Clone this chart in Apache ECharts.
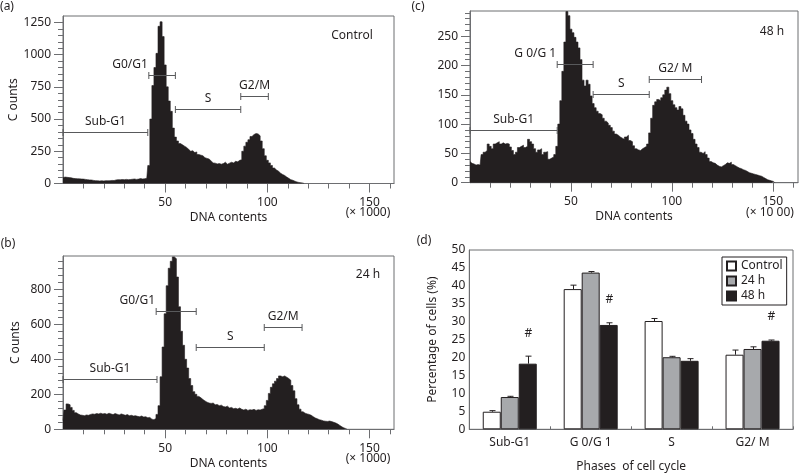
<!DOCTYPE html>
<html><head><meta charset="utf-8">
<script src="https://cdn.jsdelivr.net/npm/echarts@6/dist/echarts.min.js"></script>
<style>html,body{margin:0;padding:0;background:#fff}#c{width:800px;height:475px}</style>
</head><body><div id="c"></div>
<script>
// ---------- DATA ----------
// Histogram counts per DNA-content bin (bin width 1 unit of x1000), starting at 0
const binWidth = 1;
const countsControl = [45,50,48,46,44,40,38,37,36,35,
 34,32,30,28,27,24,22,21,20,21,
 20,22,21,22,24,23,28,30,29,31,
 30,32,30,31,33,35,32,34,38,35,
 37,40,140,500,760,900,1010,1220,1255,1140,
 920,750,640,560,430,360,330,310,300,290,
 280,265,250,255,240,245,225,220,215,200,
 195,190,175,160,158,152,155,150,155,165,
 150,158,165,160,172,168,180,185,250,290,
 320,340,365,380,388,385,370,330,270,215,
 180,160,140,120,105,95,80,70,62,50,
 40,30,25,18,12,8,5,3,0];
const counts24h = [50,110,145,140,125,108,95,88,82,80,
 78,82,80,85,88,86,90,88,92,88,
 90,86,92,88,84,90,86,82,88,84,
 80,84,78,80,76,78,74,72,76,70,
 72,66,68,58,55,62,85,135,300,470,
 660,820,920,960,985,975,870,700,560,480,
 400,350,290,250,215,200,188,180,170,162,
 155,150,148,150,140,142,135,138,130,128,
 132,122,125,118,120,116,122,114,110,115,
 108,112,110,114,108,112,110,115,118,135,
 165,205,240,260,275,290,305,300,305,298,
 290,280,250,220,175,140,115,100,92,88,
 85,80,72,65,60,55,52,48,46,45,
 47,44,40,36,30,22,14,8,4,0];
const counts48h = [36,33,32,30,31,30,48,52,55,66,
 62,58,66,68,70,66,68,66,67,66,
 61,55,48,52,60,62,64,60,62,74,
 70,66,58,52,56,58,48,52,53,40,
 42,44,48,62,100,140,190,240,292,285,
 262,256,248,240,230,210,175,165,175,168,
 148,135,128,122,118,116,110,105,102,98,
 94,88,83,81,78,76,74,78,81,72,
 70,63,58,56,55,58,60,62,66,85,
 110,132,138,142,140,145,150,158,163,152,
 140,133,128,124,130,126,115,105,100,90,
 84,74,66,60,52,50,53,48,42,36,
 34,33,30,28,27,29,31,34,33,35,
 31,29,27,25,24,22,21,19,17,16,
 15,14,13,12,11,9,7,5,4,3,
 2,0];

// Gate markers (start, end in DNA units; level in counts)
const gateNamesAB = ['Sub-G1','G0/G1','S','G2/M'];
const gateNamesC = ['Sub-G1','G 0/G 1','S','G2/ M'];
const gateStartA = [0, 42, 55, 87];
const gateEndA   = [41.5, 55, 87, 100.5];
const gateLevelA = [400, 840, 582, 680];
const gateStartB = [0, 45.6, 65.2, 98.5];
const gateEndB   = [46, 65.2, 98.5, 117];
const gateLevelB = [286, 678, 472, 586];
const gateStartC = [0, 43.2, 61, 88.8];
const gateEndC   = [43.2, 61, 88.8, 114.7];
const gateLevelC = [90, 202, 151, 177];

// Tick values
const xTickValues = [50, 100, 150];
const yTicksA = [0, 250, 500, 750, 1000, 1250];
const yTicksB = [0, 200, 400, 600, 800];
const yTicksC = [0, 50, 100, 150, 200, 250];

// Bar chart (d)
const phases = ['Sub-G1', 'G 0/G 1', 'S', 'G2/ M'];
const groups = ['Control', '24 h', '48 h'];
const pctControl = [4.9, 39.1, 30.2, 20.8];
const pct24h     = [9.0, 43.7, 20.1, 22.4];
const pct48h     = [18.3, 29.1, 19.1, 24.7];
const errControl = [0.3, 1.1, 0.7, 1.3];
const err24h     = [0.2, 0.3, 0.25, 0.6];
const err48h     = [2.1, 0.6, 0.6, 0.2];
const sig48h     = [1, 1, 0, 1];
const sigSymbol = '#';

// ---------- STYLE ----------
const font = "'Noto Sans', sans-serif";
const ink = '#231f20';
const axisColor = '#6d6e71';
const gateColor = '#58595b';
const gateLabelAlign = ['center', 'right', 'center', 'center'];
const barW = 18;
const barColors = ['#ffffff', '#a7a9ac', '#231f20'];

const chart = echarts.init(document.getElementById('c'), null, {renderer: 'canvas'});
const plain = v => String(v);

function histX(gi, max, name) {
  return {
    type: 'value', gridIndex: gi, min: 0, max: max, interval: 50,
    axisLine: {show: true, lineStyle: {color: axisColor, width: 1}},
    axisTick: {show: true, length: 9, customValues: xTickValues, lineStyle: {color: axisColor}},
    minorTick: {show: true, splitNumber: 5, length: 5, lineStyle: {color: axisColor}},
    axisLabel: {customValues: xTickValues, formatter: plain, margin: 13, fontSize: 12, fontFamily: font, color: ink},
    splitLine: {show: false}, minorSplitLine: {show: false},
    name: name, nameLocation: 'middle', nameGap: 28,
    nameTextStyle: {fontSize: 12, fontFamily: font, color: ink}
  };
}
function histY(gi, max, interval, ticks, name) {
  return {
    type: 'value', gridIndex: gi, min: 0, max: max, interval: interval,
    axisLine: {show: true, lineStyle: {color: axisColor, width: 1}},
    axisTick: {show: true, length: 9, customValues: ticks, lineStyle: {color: axisColor}},
    minorTick: {show: true, splitNumber: 5, length: 5, lineStyle: {color: axisColor}},
    axisLabel: {customValues: ticks, formatter: plain, margin: 12, fontSize: 12, fontFamily: font, color: ink},
    splitLine: {show: false}, minorSplitLine: {show: false},
    name: name, nameLocation: 'middle', nameGap: 41, nameRotate: 90,
    nameTextStyle: {fontSize: 12, fontFamily: font, color: ink}
  };
}
function histSeries(gi, counts) {
  return {
    type: 'line', xAxisIndex: gi, yAxisIndex: gi, step: 'middle',
    data: counts.map((c, i) => [i * binWidth, c]),
    symbol: 'none', silent: true, clip: true,
    lineStyle: {color: ink, width: 0.6},
    areaStyle: {color: ink, opacity: 1}
  };
}
function gateSeries(gi, starts, ends, levels, names) {
  return {
    type: 'custom', xAxisIndex: gi, yAxisIndex: gi, silent: true, z: 5, clip: false,
    encode: {x: [0, 1], y: 2},
    data: starts.map((s, i) => [s, ends[i], levels[i]]),
    renderItem: (params, api) => {
      const p1 = api.coord([api.value(0), api.value(2)]);
      const p2 = api.coord([api.value(1), api.value(2)]);
      const y = Math.round(p1[1]) + 0.5;
      const st = {stroke: gateColor, lineWidth: 1};
      const al = gateLabelAlign[params.dataIndex];
      const tx = al === 'right' ? p1[0] - 1 : (p1[0] + p2[0]) / 2;
      return {type: 'group', children: [
        {type: 'line', shape: {x1: p1[0], y1: y, x2: p2[0], y2: y}, style: st},
        {type: 'line', shape: {x1: p1[0], y1: y - 3.5, x2: p1[0], y2: y + 3.5}, style: st},
        {type: 'line', shape: {x1: p2[0], y1: y - 3.5, x2: p2[0], y2: y + 3.5}, style: st},
        {type: 'text', style: {text: names[params.dataIndex], x: tx, y: y - 11,
          align: al, verticalAlign: 'middle', fontSize: 12, fontFamily: font, fill: ink}}
      ]};
    }
  };
}

const pctAll = [pctControl, pct24h, pct48h];
const errAll = [errControl, err24h, err48h];
const errData = [];
for (let s = 0; s < 3; s++) {
  for (let c = 0; c < phases.length; c++) {
    errData.push([c, s, pctAll[s][c], errAll[s][c], s === 2 ? sig48h[c] : 0]);
  }
}

function txt(text, x, y) {
  return {type: 'text', x: x, y: y, silent: true,
    style: {text: text, align: 'center', verticalAlign: 'middle', fontSize: 12, fontFamily: font, fill: ink}};
}

const option = {
  animation: false,
  backgroundColor: '#ffffff',
  textStyle: {fontFamily: font},
  grid: [
    {left: 63, top: 16, width: 331, height: 167.5, show: true, borderColor: axisColor, borderWidth: 1, backgroundColor: 'transparent'},
    {left: 63, top: 256, width: 331, height: 173.3, show: true, borderColor: axisColor, borderWidth: 1, backgroundColor: 'transparent'},
    {left: 470, top: 11, width: 328, height: 171.7, show: true, borderColor: axisColor, borderWidth: 1, backgroundColor: 'transparent'},
    {left: 469.3, top: 250, width: 323.7, height: 179.3, show: true, borderColor: axisColor, borderWidth: 1, backgroundColor: 'transparent'}
  ],
  xAxis: [
    histX(0, 162, 'DNA contents'),
    histX(1, 162, 'DNA contents'),
    histX(2, 162.5, 'DNA contents'),
    {
      type: 'category', gridIndex: 3, data: phases,
      axisLine: {show: true, lineStyle: {color: axisColor}},
      axisTick: {show: true, inside: true, length: 3, lineStyle: {color: axisColor}},
      axisLabel: {margin: 7, fontSize: 12, fontFamily: font, color: ink},
      name: 'Phases  of cell cycle', nameLocation: 'middle', nameGap: 31,
      nameTextStyle: {fontSize: 12, fontFamily: font, color: ink}
    }
  ],
  yAxis: [
    histY(0, 1300, 250, yTicksA, 'C ounts'),
    histY(1, 990, 200, yTicksB, 'C ounts'),
    histY(2, 293, 50, yTicksC, ''),
    {
      type: 'value', gridIndex: 3, min: 0, max: 50, interval: 5,
      axisLine: {show: true, lineStyle: {color: axisColor}},
      axisTick: {show: false},
      axisLabel: {margin: 4, fontSize: 12, fontFamily: font, color: ink},
      splitLine: {show: false},
      name: 'Percentage of cells (%)', nameLocation: 'middle', nameGap: 31, nameRotate: 90,
      nameTextStyle: {fontSize: 12, fontFamily: font, color: ink}
    }
  ],
  legend: {
    show: true, data: groups, orient: 'vertical', left: 722, top: 257,
    itemWidth: 9, itemHeight: 9, itemGap: 3, padding: [3, 4, 3, 4],
    borderColor: ink, borderWidth: 1, icon: 'rect', selectedMode: false,
    textStyle: {fontSize: 12, fontFamily: font, color: ink}
  },
  series: [
    histSeries(0, countsControl),
    histSeries(1, counts24h),
    histSeries(2, counts48h),
    gateSeries(0, gateStartA, gateEndA, gateLevelA, gateNamesAB),
    gateSeries(1, gateStartB, gateEndB, gateLevelB, gateNamesAB),
    gateSeries(2, gateStartC, gateEndC, gateLevelC, gateNamesC),
    ...groups.map((g, s) => ({
      type: 'bar', name: g, xAxisIndex: 3, yAxisIndex: 3, data: pctAll[s],
      barWidth: barW, barGap: '0%', silent: true,
      itemStyle: {color: barColors[s], borderColor: ink, borderWidth: 1}
    })),
    {
      type: 'custom', xAxisIndex: 3, yAxisIndex: 3, silent: true, z: 6, clip: false,
      encode: {x: 0, y: 2},
      data: errData,
      renderItem: (params, api) => {
        const c = api.value(0), s = api.value(1), v = api.value(2), e = api.value(3), sig = api.value(4);
        const base = api.coord([c, v]);
        const top = api.coord([c, v + e]);
        const x = Math.round(base[0] + (s - 1) * barW) + 0.5;
        const st = {stroke: ink, lineWidth: 1};
        const ch = [
          {type: 'line', shape: {x1: x, y1: base[1], x2: x, y2: top[1]}, style: st},
          {type: 'line', shape: {x1: x - 3, y1: top[1], x2: x + 3, y2: top[1]}, style: st}
        ];
        if (sig) {
          ch.push({type: 'text', style: {text: sigSymbol, x: x, y: top[1] - 23, align: 'center',
            verticalAlign: 'middle', fontSize: 12, fontFamily: font, fill: ink}});
        }
        return {type: 'group', children: ch};
      }
    }
  ],
  graphic: [
    txt('(a)', 7, 7), txt('(b)', 8, 244), txt('(c)', 418, 7), txt('(d)', 424, 241),
    txt('Control', 352, 36), txt('24 h', 368, 275), txt('48 h', 772, 32),
    txt('(× 1000)', 368, 213), txt('(× 1000)', 368, 459), txt('(× 10 00)', 770, 212.5)
  ]
};
chart.setOption(option);
</script>
</body></html>
